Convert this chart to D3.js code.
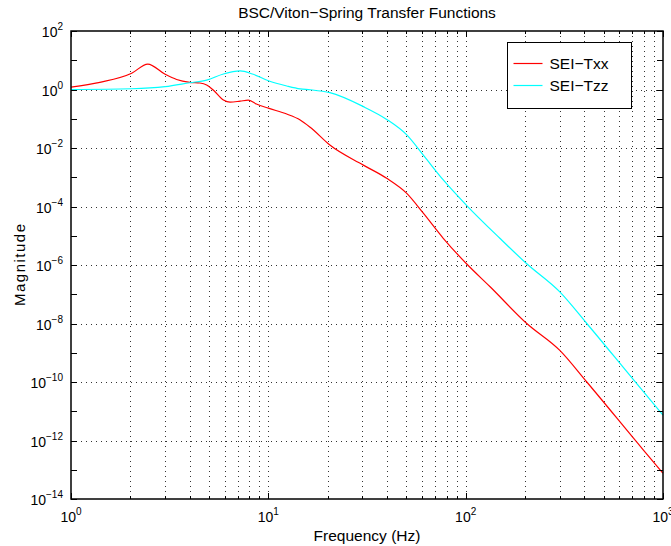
<!DOCTYPE html>
<html>
<head>
<meta charset="utf-8">
<script src="https://cdn.jsdelivr.net/npm/d3@7"></script>
<style>
  body { margin: 0; background: #fff; }
  svg { font-family: "Liberation Sans", Arial, sans-serif; }
</style>
</head>
<body>
<div id="chart"></div>
<script>
// values
const freqTxx = [1, 1.4, 2.03, 2.45, 3.0, 3.43, 4.0, 4.5, 4.87, 5.26, 5.92, 6.4, 7.2, 7.9, 8.7, 10, 12.4, 14.5, 16.3, 20.5, 30.3, 39.8, 50.3, 61, 77, 101, 133, 204, 300, 411, 794, 1000];
const magTxx = [1.2, 1.76, 3.6, 7.4, 3.3, 2.2, 1.76, 1.67, 1.43, 0.96, 0.44, 0.37, 0.40, 0.43, 0.32, 0.23, 0.145, 0.091, 0.051, 0.0126, 0.0026, 9.2e-4, 2.8e-4, 5.9e-5, 8.2e-6, 1.1e-6, 1.8e-7, 1.0e-8, 1.2e-9, 1.0e-10, 4.8e-13, 7.6e-14];
const freqTzz = [1, 2.03, 3.0, 4.0, 4.87, 5.92, 7.2, 8.3, 10, 12.4, 14.5, 16.3, 20.5, 30.3, 39.8, 50.3, 61, 77, 101, 149, 204, 300, 411, 708, 1000];
const magTzz = [1.0, 1.06, 1.25, 1.7, 2.1, 3.4, 4.3, 3.4, 2.0, 1.32, 1.05, 0.98, 0.78, 0.26, 0.095, 0.028, 0.0057, 8.1e-4, 1.1e-4, 8.2e-6, 1.1e-6, 1.2e-7, 1.0e-8, 1.2e-10, 7.4e-12];
const seriesNames = ["SEI\u2212Txx", "SEI\u2212Tzz"];
const seriesColors = ["#ff0000", "#00ffff"];
const xTickExps = [0, 1, 2, 3];
const yTickExps = [2, 0, -2, -4, -6, -8, -10, -12, -14];

const W = 671, H = 546;
const margin = { top: 31, right: 8, bottom: 47, left: 71 };
const width = W - margin.left - margin.right;
const height = H - margin.top - margin.bottom;

const x = d3.scaleLog().domain([1, 1000]).range([0, width]);
const y = d3.scaleLog().domain([1e-14, 1e2]).range([height, 0]);

const svg = d3.select("#chart").append("svg")
  .attr("width", W)
  .attr("height", H);

const g = svg.append("g")
  .attr("transform", `translate(${margin.left},${margin.top})`);

// minor / major x positions
const xMinor = [];
for (let e = 0; e < 3; e++) {
  for (let k = 2; k <= 9; k++) xMinor.push(k * Math.pow(10, e));
}
const xMajor = xTickExps.map(e => Math.pow(10, e));
const yAll = d3.range(-14, 3).map(e => Math.pow(10, e));
const yGrid = yTickExps.map(e => Math.pow(10, e));

// grid
const grid = g.append("g")
  .attr("stroke", "#333")
  .attr("stroke-width", 1)
  .attr("stroke-dasharray", "1,4");

grid.selectAll(".vg")
  .data(xMinor.concat(xMajor.slice(1, 3)))
  .enter().append("line")
  .attr("x1", d => Math.round(x(d)) + 0.5)
  .attr("x2", d => Math.round(x(d)) + 0.5)
  .attr("y1", 0)
  .attr("y2", height);

grid.selectAll(".hg")
  .data(yGrid.slice(1, -1))
  .enter().append("line")
  .attr("x1", 0)
  .attr("x2", width)
  .attr("y1", d => Math.round(y(d)) + 0.5)
  .attr("y2", d => Math.round(y(d)) + 0.5);

// curves
const line = d3.line()
  .x(d => x(d[0]))
  .y(d => y(d[1]))
  .curve(d3.curveMonotoneX);

const series = [
  d3.zip(freqTxx, magTxx),
  d3.zip(freqTzz, magTzz)
];

g.selectAll(".curve")
  .data(series)
  .enter().append("path")
  .attr("class", "curve")
  .attr("fill", "none")
  .attr("stroke", (d, i) => seriesColors[i])
  .attr("stroke-width", 1.2)
  .attr("d", line);

// ticks (inward, all four sides)
const ticks = g.append("g").attr("stroke", "#000").attr("stroke-width", 1);
function vTick(v, len, atBottom) {
  const px = Math.round(x(v)) + 0.5;
  ticks.append("line").attr("x1", px).attr("x2", px)
    .attr("y1", atBottom ? height : 0).attr("y2", atBottom ? height - len : len);
}
function hTick(v, len, atLeft) {
  const py = Math.round(y(v)) + 0.5;
  ticks.append("line").attr("y1", py).attr("y2", py)
    .attr("x1", atLeft ? 0 : width).attr("x2", atLeft ? len : width - len);
}
xMinor.forEach(v => { vTick(v, 3, true); vTick(v, 3, false); });
xMajor.forEach(v => { vTick(v, 6, true); vTick(v, 6, false); });
yAll.forEach(v => { hTick(v, 6, true); hTick(v, 6, false); });

// box
g.append("rect")
  .attr("x", 0).attr("y", 0)
  .attr("width", width).attr("height", height)
  .attr("fill", "none")
  .attr("stroke", "#000")
  .attr("stroke-width", 1.5);

// tick labels
function powLabel(sel, e) {
  sel.append("tspan").text("10");
  sel.append("tspan").attr("dy", -7).attr("font-size", 10).text(String(e).replace("-", "\u2212"));
}

xTickExps.forEach(e => {
  const t = g.append("text")
    .attr("x", x(Math.pow(10, e)))
    .attr("y", height + 23)
    .attr("text-anchor", "middle")
    .attr("font-size", 14)
    .attr("fill", "#000");
  powLabel(t, e);
});

yTickExps.forEach(e => {
  const t = g.append("text")
    .attr("x", -8)
    .attr("y", y(Math.pow(10, e)) + 6)
    .attr("text-anchor", "end")
    .attr("font-size", 14)
    .attr("fill", "#000");
  powLabel(t, e);
});

// titles
svg.append("text")
  .attr("x", margin.left + width / 2)
  .attr("y", 18)
  .attr("text-anchor", "middle")
  .attr("font-size", 15.5)
  .text("BSC/Viton\u2212Spring Transfer Functions");

svg.append("text")
  .attr("x", margin.left + width / 2)
  .attr("y", 541)
  .attr("text-anchor", "middle")
  .attr("font-size", 15.5)
  .text("Frequency (Hz)");

svg.append("text")
  .attr("transform", `translate(25,${margin.top + height / 2}) rotate(-90)`)
  .attr("text-anchor", "middle")
  .attr("font-size", 15)
  .attr("textLength", 82)
  .attr("lengthAdjust", "spacing")
  .text("Magnitude");

// legend
const legend = svg.append("g").attr("transform", "translate(507.5,42.5)");
legend.append("rect")
  .attr("width", 124).attr("height", 66)
  .attr("fill", "#fff").attr("stroke", "#000").attr("stroke-width", 1);
seriesNames.forEach((name, i) => {
  const row = legend.append("g").attr("transform", `translate(0,${21 + i * 22})`);
  row.append("line")
    .attr("x1", 6).attr("x2", 35)
    .attr("stroke", seriesColors[i]).attr("stroke-width", 1.2);
  row.append("text")
    .attr("x", 42).attr("y", 5)
    .attr("font-size", 15.5)
    .text(name);
});
</script>
</body>
</html>
